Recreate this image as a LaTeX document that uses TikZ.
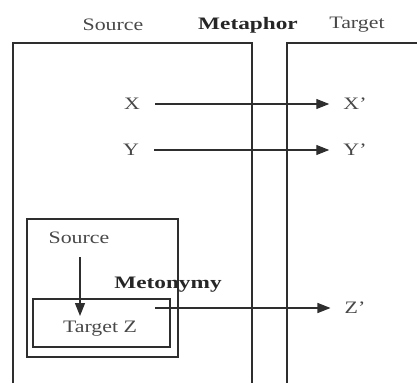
\documentclass[tikz,border=0pt]{standalone}
\usepackage{fontspec}
\setmainfont{Liberation Serif}[FakeStretch=1.25, BoldFeatures={FakeStretch=1.33}]
\usetikzlibrary{arrows.meta}
\definecolor{ln}{HTML}{2E2E2E}
\definecolor{tx}{HTML}{484848}
\definecolor{tb}{HTML}{262626}
\begin{document}
\begin{tikzpicture}[x=1pt,y=-1pt,
  lbl/.style={font=\fontsize{17.5}{20}\selectfont, text=tx, inner sep=0pt},
  blbl/.style={font=\fontsize{17.5}{20}\selectfont\bfseries, text=tb, inner sep=0pt},
  frame/.style={draw=ln, line width=1.2pt},
  arr/.style={draw=ln, line width=1.2pt, -{Triangle[length=13pt,width=10pt]}}]
\useasboundingbox (0,0) rectangle (417,383);
% domain frames
\draw[frame] (13,383) -- (13,43) -- (252,43) -- (252,383);
\draw[frame] (287,383) -- (287,43) -- (420,43);
% metonymy frames
\draw[frame] (27,219) rectangle (178,357);
\draw[frame] (33,299) rectangle (170,347);
% labels
\node[lbl] (lsrc) at (113,25) {Source};
\node[blbl] (meta) at (248,25) {Metaphor};
\node[lbl] (ltgt) at (357,25) {Target};
\node[lbl] (X) at (132,104) {X};
\node[lbl] (Xp) at (355,104) {X'};
\node[lbl] (Y) at (131,150) {Y};
\node[lbl] (Yp) at (355,150) {Y'};
\node[lbl] (Zp) at (355,308) {Z'};
\node[lbl] (src) at (79,238) {Source};
\node[lbl] (tz) at (100,329) {Target Z};
\node[blbl] (meto) at (168,285) {Metonymy};
\coordinate (zs) at (155,308);
\coordinate (ma) at (80,257);
\coordinate (mb) at (80,316);
% mappings
\draw[arr, shorten <=15pt, shorten >=14pt] (X.east) -- (Xp.west);
\draw[arr, shorten <=15pt, shorten >=14pt] (Y.east) -- (Yp.west);
\draw[arr, shorten >=14pt] (zs) -- (Zp.west);
\draw[arr] (ma) -- (mb);
\end{tikzpicture}
\end{document}
